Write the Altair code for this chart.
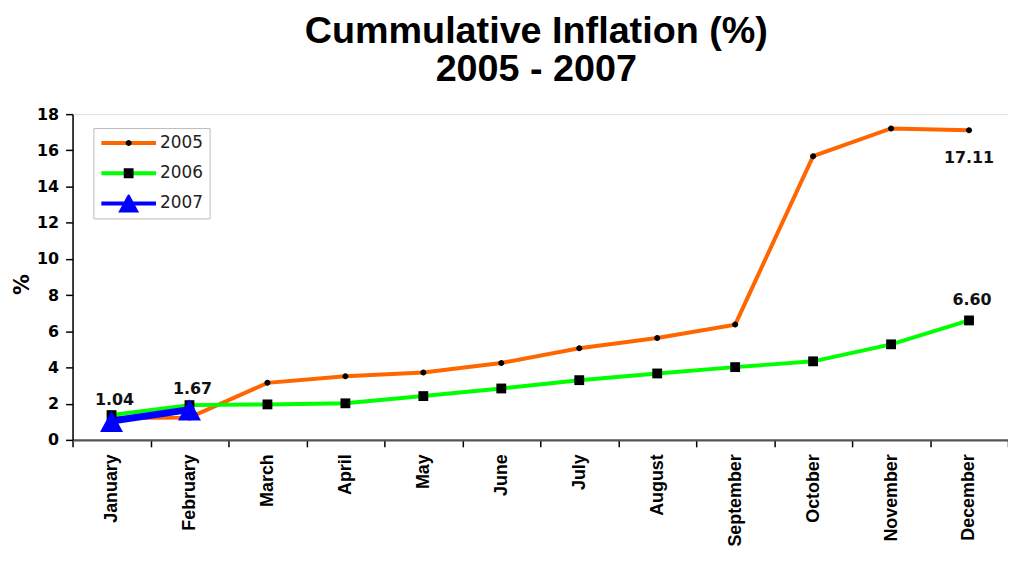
import altair as alt
import pandas as pd

months = ["January", "February", "March", "April", "May", "June", "July",
          "August", "September", "October", "November", "December"]
series_names = ["2005", "2006", "2007"]
inflation_2005 = [1.21, 1.23, 3.15, 3.52, 3.72, 4.25, 5.06, 5.63, 6.37, 15.68, 17.21, 17.11]
inflation_2006 = [1.37, 1.92, 1.96, 2.02, 2.42, 2.84, 3.30, 3.67, 4.02, 4.34, 5.28, 6.60]
inflation_2007 = [1.04, 1.67]
y_ticks = [0, 2, 4, 6, 8, 10, 12, 14, 16, 18]

line_colors = ["#FF6600", "#00FF00", "#0000FF"]
marker_fills = ["#000000", "#000000", "#0000FF"]
marker_paths = [
    "M0.11,0A0.11,0.11 0 1,1 -0.11,0A0.11,0.11 0 1,1 0.11,0Z",
    "M-0.18,-0.18H0.18V0.18H-0.18Z",
    "M0,-0.38L0.42,0.4H-0.42Z",
]

rows = []
for name, vals in zip(series_names, [inflation_2005, inflation_2006, inflation_2007]):
    for i, (m, v) in enumerate(zip(months, vals)):
        rows.append({"month": m, "idx": i, "series": name, "value": v})
df = pd.DataFrame(rows)

SYM = 3025
legend_common = dict(
    orient="none", legendX=21, legendY=14, padding=6, clipHeight=18,
    rowPadding=12.5, symbolSize=SYM, symbolStrokeWidth=4, labelFont="DejaVu Sans",
    labelFontSize=17, labelOffset=2, title=None, labelLimit=200,
)

x_enc = alt.X(
    "month:N", sort=months, title=None, bandPosition=0.5,
    scale=alt.Scale(type="band", paddingInner=0, paddingOuter=0),
    axis=alt.Axis(labelAngle=-90, tickBand="extent", labelFont="Liberation Sans",
                  labelFontSize=18, labelFontWeight="bold", labelColor="#000",
                  labelPadding=7, tickSize=7, tickColor="#000", tickWidth=1.5,
                  domainColor="#555", domainWidth=2.5, grid=False),
)
y_enc = alt.Y(
    "value:Q", title="%",
    scale=alt.Scale(domain=[0, 18], nice=False),
    axis=alt.Axis(values=y_ticks, labelFont="DejaVu Sans", labelFontSize=16,
                  labelFontWeight="bold", labelColor="#000", labelPadding=7,
                  tickSize=7, tickColor="#000", tickWidth=1.5, domainColor="#000",
                  domainWidth=1.5, grid=False, titleFont="DejaVu Sans",
                  titleFontSize=21, titleFontWeight="bold", titleColor="#000",
                  titleX=-40, titleY=171),
)

base = alt.Chart(df)

lines = base.mark_line().encode(
    x=x_enc, y=y_enc, order="idx:Q",
    stroke=alt.Stroke("series:N",
                      scale=alt.Scale(domain=series_names, range=line_colors),
                      legend=alt.Legend(symbolType="stroke", strokeColor="#bbbbbb",
                                        labelColor="#222", zindex=0, **legend_common)),
    strokeWidth=alt.condition(alt.datum.series == "2007", alt.value(7), alt.value(4)),
)

points = base.mark_point(filled=True, size=SYM, opacity=1).encode(
    x=x_enc, y=y_enc,
    fill=alt.Fill("series:N", scale=alt.Scale(range=marker_fills),
                  legend=alt.Legend(labelColor="transparent", symbolStrokeColor="transparent",
                                    symbolOpacity=1, zindex=1, **legend_common)),
    shape=alt.Shape("series:N", scale=alt.Scale(range=marker_paths),
                    legend=alt.Legend(labelColor="transparent", symbolStrokeColor="transparent",
                                      symbolOpacity=1, zindex=1, **legend_common)),
)

text_style = dict(font="DejaVu Sans", fontSize=16, fontWeight="bold", color="#111",
                  baseline="alphabetic")
labels_above = base.transform_filter(
    "datum.series == '2007' || (datum.series == '2006' && datum.month == 'December')"
).mark_text(dy=-16, dx=3, **text_style).encode(
    x=x_enc, y=y_enc, text=alt.Text("value:Q", format=".2f"))
labels_below = base.transform_filter(
    "datum.series == '2005' && datum.month == 'December'"
).mark_text(dy=33, **text_style).encode(
    x=x_enc, y=y_enc, text=alt.Text("value:Q", format=".2f"))

chart = alt.layer(lines, points, labels_above, labels_below).properties(
    width=942, height=328,
    autosize=alt.AutoSizeParams(type="none"),
    padding={"left": 65, "top": 105, "right": 0, "bottom": 108},
    title=alt.TitleParams(["Cummulative Inflation (%)", "2005 - 2007"],
                          font="Liberation Sans", fontSize=38, fontWeight="bold",
                          lineHeight=39, offset=17, frame="group", anchor="middle",
                          dx=-4, color="#000"),
).configure_view(stroke="#999999", strokeWidth=2).configure(background="white")

chart.save("out.html", embed_options={"renderer": "svg", "actions": False})
